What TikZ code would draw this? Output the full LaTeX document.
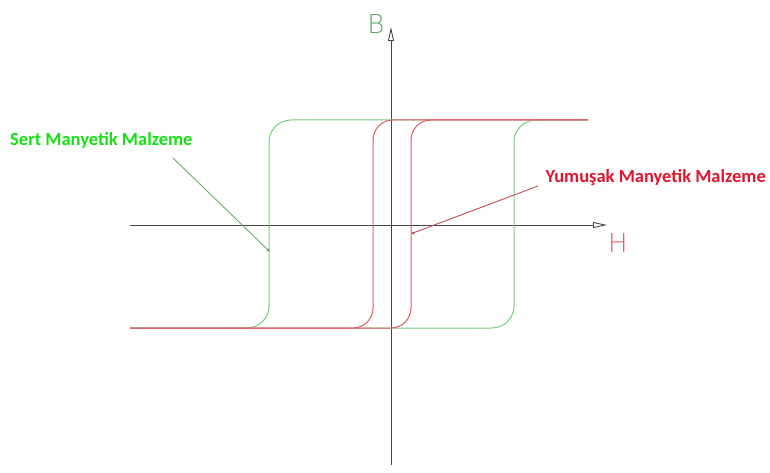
\documentclass[tikz,border=0pt]{standalone}
\usepackage{fontspec}
\setmainfont{Carlito}
\newfontfamily\thinfont{DejaVu Sans ExtraLight}
\usepackage{tikz}
\usetikzlibrary{arrows.meta}
\definecolor{hardgreen}{RGB}{120,205,120}
\definecolor{softred}{RGB}{228,90,100}
\definecolor{labgreen}{RGB}{20,225,20}
\definecolor{labred}{RGB}{225,20,45}
\definecolor{axisgray}{RGB}{70,70,70}

\begin{document}
\begin{tikzpicture}[
    x=1pt, y=-1pt,
    axis/.style={axisgray, line width=0.9pt, -{Triangle[open, length=14pt, width=6pt]}},
    loop/.style={line width=1pt, rounded corners=22pt},
    leader/.style={line width=0.9pt},
    matlabel/.style={font=\bfseries\fontsize{18.5}{18.5}\selectfont, inner sep=0pt},
    axlabel/.style={font=\thinfont\fontsize{26}{26}\selectfont, inner sep=0pt},
    tipdot/.style={circle, fill, inner sep=0pt, minimum size=3pt}
]
\useasboundingbox (0,0) rectangle (770,473);

% Axes
\coordinate (hstart) at (130,225);
\coordinate (hend) at (607,225);
\coordinate (bstart) at (391,465);
\coordinate (bend) at (391,27);
\draw[axis] (hstart) -- (hend);
\draw[axis] (bstart) -- (bend);
\node[axlabel, text=hardgreen!80!black] (blab) at (376,24) {B};
\node[axlabel, text=softred] (hlab) at (618,243) {H};

% Hard material loop (green)
\draw[loop, hardgreen] (588,120) -- (269,120) -- (269,328) -- (130,328);
\draw[loop, hardgreen] (130,328) -- (514,328) -- (514,120) -- (588,120);

% Soft material loop (red)
\draw[loop, softred, rounded corners=20pt] (588,120) -- (373,120) -- (373,328) -- (130,328);
\draw[loop, softred, rounded corners=20pt] (130,328) -- (411,328) -- (411,120) -- (588,120);

% Labels
\node[matlabel, text=labgreen, anchor=west] (hard) at (10,140) {Sert Manyetik Malzeme};
\node[matlabel, text=labred, anchor=east] (soft) at (766,178) {Yumuşak Manyetik Malzeme};
\node[tipdot, hardgreen!70!black] (harddot) at (268,250) {};
\node[tipdot, softred!80!black] (softdot) at (413,233) {};
\draw[leader, hardgreen!85!black] (173,158) -- (harddot.center);
\draw[leader, softred!85!black] (538,186) -- (softdot.center);

\end{tikzpicture}
\end{document}
